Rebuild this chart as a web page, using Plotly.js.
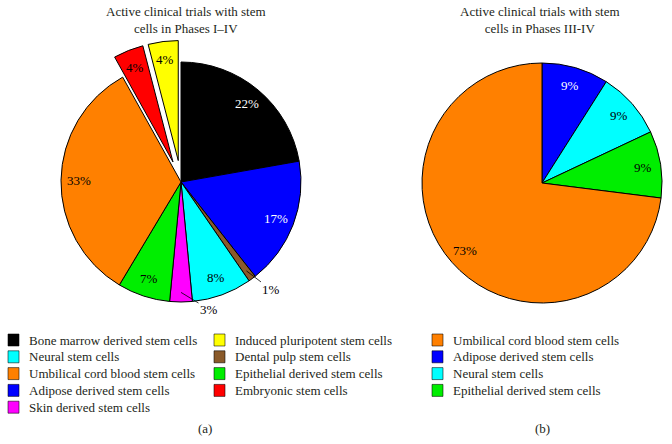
<!DOCTYPE html>
<html>
<head>
<meta charset="utf-8">
<script src="https://cdn.plot.ly/plotly-3.0.1.min.js"></script>
<style>
  html, body { margin: 0; padding: 0; background: #ffffff; }
  #chart { width: 672px; height: 444px; }
</style>
</head>
<body>
<div id="chart"></div>
<script>
// Data: stem cell trials, slices listed clockwise from 12 o'clock
const phasesAllLabels = [
  "Bone marrow derived stem cells",
  "Adipose derived stem cells",
  "Dental pulp stem cells",
  "Neural stem cells",
  "Skin derived stem cells",
  "Epithelial derived stem cells",
  "Umbilical cord blood stem cells",
  "Embryonic stem cells",
  "Induced pluripotent stem cells"
];
const phasesAllValues = [22, 17, 1, 8, 3, 7, 33, 4, 4];

const phasesLateLabels = [
  "Adipose derived stem cells",
  "Neural stem cells",
  "Epithelial derived stem cells",
  "Umbilical cord blood stem cells"
];
const phasesLateValues = [9, 9, 9, 73];

// legend order as printed under each pie
const legendACol1 = [
  "Bone marrow derived stem cells",
  "Neural stem cells",
  "Umbilical cord blood stem cells",
  "Adipose derived stem cells",
  "Skin derived stem cells"
];
const legendACol2 = [
  "Induced pluripotent stem cells",
  "Dental pulp stem cells",
  "Epithelial derived stem cells",
  "Embryonic stem cells"
];
const legendB = [
  "Umbilical cord blood stem cells",
  "Adipose derived stem cells",
  "Neural stem cells",
  "Epithelial derived stem cells"
];

const titleA = "Active clinical trials with stem<br>cells in Phases I–IV";
const titleB = "Active clinical trials with stem<br>cells in Phases III-IV";

// styles
const colorOf = {
  "Bone marrow derived stem cells": "#000000",
  "Neural stem cells": "#00ffff",
  "Umbilical cord blood stem cells": "#ff8000",
  "Adipose derived stem cells": "#0000ff",
  "Skin derived stem cells": "#ff00ff",
  "Induced pluripotent stem cells": "#ffff00",
  "Dental pulp stem cells": "#8a5a2a",
  "Epithelial derived stem cells": "#00ee00",
  "Embryonic stem cells": "#ff0000"
};
const whiteText = ["Bone marrow derived stem cells", "Adipose derived stem cells"];
const pulled = ["Embryonic stem cells", "Induced pluripotent stem cells"];
const outsideText = ["Dental pulp stem cells", "Skin derived stem cells"];
const PULL = 0.18;

const FONT = "Liberation Serif, Times New Roman, DejaVu Serif, serif";
const TXT = "#231f20";
const W = 672, H = 444;

// pie geometry in px (center + radius), domain is derived from it
const pieA = { cx: 181, cy: 182, r: 120, pull: PULL };
const pieB = { cx: 542, cy: 183, r: 120, pull: 0 };

function domainOf(p) {
  const half = p.r * (1 + p.pull);
  return {
    x: [(p.cx - half) / W, (p.cx + half) / W],
    y: [1 - (p.cy + half) / H, 1 - (p.cy - half) / H]
  };
}

function pieTrace(labels, values, p) {
  return {
    type: "pie",
    labels: labels,
    values: values,
    sort: false,
    direction: "clockwise",
    rotation: 0,
    domain: domainOf(p),
    pull: labels.map(l => pulled.includes(l) ? p.pull : 0),
    marker: {
      colors: labels.map(l => colorOf[l]),
      line: { color: "#000000", width: 1 }
    },
    textinfo: "none",
    hoverinfo: "label+percent",
    showlegend: false
  };
}

const traces = [
  pieTrace(phasesAllLabels, phasesAllValues, pieA),
  pieTrace(phasesLateLabels, phasesLateValues, pieB)
];

const shapes = [];
const annotations = [];

// percent labels placed at each slice's mid angle
function addSliceLabels(labels, values, p) {
  const total = values.reduce((a, b) => a + b, 0);
  let cum = 0;
  labels.forEach((name, i) => {
    const frac = values[i] / total;
    const mid = (cum + frac / 2) * 2 * Math.PI;
    cum += frac;
    const txt = Math.round(frac * 100) + "%";
    const sx = Math.sin(mid), sy = -Math.cos(mid);
    const font = { family: FONT, size: 13, color: whiteText.includes(name) ? "#ffffff" : "#000000" };
    if (outsideText.includes(name)) {
      // small slices: label outside with a leader line
      const tipR = p.r * 0.92;
      const tx = p.cx + sx * tipR, ty = p.cy + sy * tipR;
      annotations.push({
        xref: "paper", yref: "paper", x: tx / W, y: 1 - ty / H,
        text: txt, showarrow: true, arrowhead: 0, arrowwidth: 0.8, arrowcolor: "#000000",
        ax: sx > 0.1 ? 25 : 28, ay: sx > 0.1 ? 19 : 17, standoff: 0,
        font: { family: FONT, size: 13, color: "#000000" }
      });
      return;
    }
    const off = pulled.includes(name) ? p.pull * p.r : 0;
    const lr = p.r * 0.85 + off;
    annotations.push({
      xref: "paper", yref: "paper",
      x: (p.cx + sx * lr) / W, y: 1 - (p.cy + sy * lr) / H,
      xanchor: "center", yanchor: "middle",
      text: txt, showarrow: false, font: font
    });
  });
}
addSliceLabels(phasesAllLabels, phasesAllValues, pieA);
addSliceLabels(phasesLateLabels, phasesLateValues, pieB);

// custom legend: squares + text
function addLegendColumn(items, xBox, xText, yTop) {
  items.forEach((name, i) => {
    const yc = yTop + i * 16.8;
    shapes.push({
      type: "rect", xref: "paper", yref: "paper",
      x0: xBox / W, x1: (xBox + 11) / W,
      y0: 1 - (yc + 6) / H, y1: 1 - (yc - 6) / H,
      fillcolor: colorOf[name],
      line: { color: "rgba(0,0,0,0.55)", width: 1 }
    });
    annotations.push({
      xref: "paper", yref: "paper",
      x: xText / W, y: 1 - yc / H,
      xanchor: "left", yanchor: "middle",
      text: name, showarrow: false,
      font: { family: FONT, size: 13, color: TXT }
    });
  });
}
addLegendColumn(legendACol1, 8, 27, 340);
addLegendColumn(legendACol2, 214, 233, 340);
addLegendColumn(legendB, 432, 451, 340);

annotations.push(
  { xref: "paper", yref: "paper", x: 186 / W, y: 1 - 2 / H, xanchor: "center", yanchor: "top",
    text: titleA, showarrow: false, font: { family: FONT, size: 13, color: TXT } },
  { xref: "paper", yref: "paper", x: 540 / W, y: 1 - 2 / H, xanchor: "center", yanchor: "top",
    text: titleB, showarrow: false, font: { family: FONT, size: 13, color: TXT } },
  { xref: "paper", yref: "paper", x: 205 / W, y: 1 - 428 / H, xanchor: "center", yanchor: "middle",
    text: "(a)", showarrow: false, font: { family: FONT, size: 13, color: TXT } },
  { xref: "paper", yref: "paper", x: 542 / W, y: 1 - 428 / H, xanchor: "center", yanchor: "middle",
    text: "(b)", showarrow: false, font: { family: FONT, size: 13, color: TXT } }
);

const layout = {
  width: W,
  height: H,
  margin: { t: 0, r: 0, b: 0, l: 0 },
  paper_bgcolor: "#ffffff",
  showlegend: false,
  shapes: shapes,
  annotations: annotations
};

Plotly.newPlot("chart", traces, layout, { displayModeBar: false, staticPlot: true });
</script>
</body>
</html>
